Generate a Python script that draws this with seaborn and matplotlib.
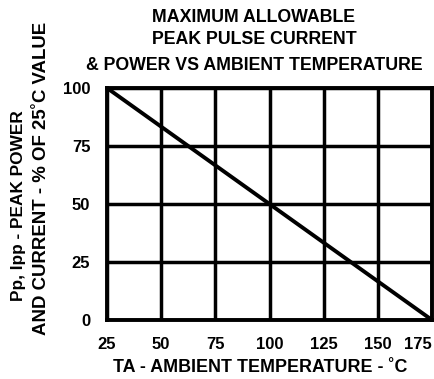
import matplotlib
matplotlib.use("Agg")
import matplotlib.pyplot as plt
import seaborn as sns
import pandas as pd

temperature_c = [25, 175]
percent_of_25c = [100, 0]
x_ticks = [25, 50, 75, 100, 125, 150, 175]
y_ticks = [0, 25, 50, 75, 100]
title_lines = ["MAXIMUM ALLOWABLE", "PEAK PULSE CURRENT", "& POWER VS AMBIENT TEMPERATURE"]
x_label = "TA - AMBIENT TEMPERATURE - ˚C"
y_label_lines = ["Pp, Ipp - PEAK POWER", "AND CURRENT - % OF 25˚C VALUE"]

sns.set_theme(style="white")
plt.rcParams['font.family'] = ['Liberation Sans', 'DejaVu Sans']
plt.rcParams['text.color'] = 'black'
plt.rcParams['xtick.color'] = 'black'
plt.rcParams['ytick.color'] = 'black'

df = pd.DataFrame({"temp": temperature_c, "pct": percent_of_25c})

W, H = 435, 379
fig = plt.figure(figsize=(W / 100, H / 100), dpi=100)
left, right, top, bottom = 107, 432, 88, 320
ax = fig.add_axes([left / W, 1 - bottom / H, (right - left) / W, (bottom - top) / H])

sns.lineplot(data=df, x="temp", y="pct", ax=ax, color="black", linewidth=2.8)

ax.set_xlim(25, 175)
ax.set_ylim(0, 100)
ax.set_xticks(x_ticks)
ax.set_yticks(y_ticks)
ax.grid(True, color="black", linewidth=2.5)
for s in ax.spines.values():
    s.set_visible(True)
    s.set_color("black")
    s.set_linewidth(2.8)
ax.tick_params(axis="y", length=3, width=2, color="black", pad=9, labelsize=12, labelcolor="black")
ax.tick_params(axis="x", length=0, pad=12, labelsize=12, labelcolor="black")
for lab in ax.get_xticklabels() + ax.get_yticklabels():
    lab.set_fontweight("bold")
xl = ax.get_xticklabels()
xl[-1].set_horizontalalignment("right")
xl[-1].set_x(175)
ax.set_xlabel("")
ax.set_ylabel("")

fig.text(260 / W, 1 - 367 / H, x_label, ha="center", va="center", fontsize=12.9,
         fontweight="bold", color="black")
fig.text(19 / W, 1 - 206 / H, y_label_lines[0], ha="center", va="center", rotation=90,
         fontsize=12.4, fontweight="bold", color="black")
fig.text(42 / W, 1 - 178 / H, y_label_lines[1], ha="center", va="center", rotation=90,
         fontsize=13.4, fontweight="bold", color="black")
title_y = [18, 40, 65]
for line, ty in zip(title_lines, title_y):
    fig.text(254 / W, 1 - ty / H, line, ha="center", va="center",
             fontsize=12.8, fontweight="bold", color="black")

fig.savefig("out.png", dpi=100, facecolor="white")
